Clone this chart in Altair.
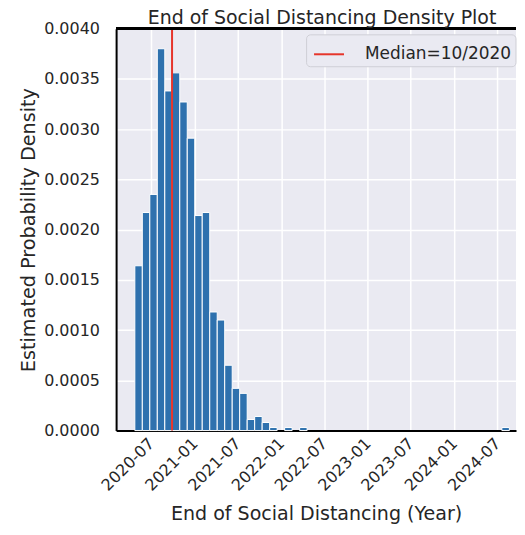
import altair as alt
import pandas as pd

# ---- data ----
bin_first_start = "2020-04-23"   # left edge of first histogram bin
bin_width_days = 31.6            # width of each histogram bin
densities = [
    0.00164, 0.00217, 0.00235, 0.00380, 0.00338, 0.00356, 0.00327, 0.00291,
    0.00214, 0.00217, 0.00118, 0.00110, 0.00065, 0.00042, 0.00037, 0.00011,
    0.00014, 0.00008, 0.00003, 0.0, 0.00003, 0.0, 0.00003,
    0.0, 0.0, 0.0, 0.0, 0.0, 0.0, 0.0, 0.0, 0.0, 0.0, 0.0, 0.0, 0.0,
    0.0, 0.0, 0.0, 0.0, 0.0, 0.0, 0.0, 0.0, 0.0, 0.0, 0.0, 0.0, 0.0,
    0.00003,
]
median_date = "2020-09-27"
median_label = "Median=10/2020"
x_tick_dates = ["2020-07-01", "2021-01-01", "2021-07-01", "2022-01-01",
                "2022-07-01", "2023-01-01", "2023-07-01", "2024-01-01",
                "2024-07-01"]
y_ticks = [0.0, 0.0005, 0.001, 0.0015, 0.002, 0.0025, 0.003, 0.0035, 0.004]
y_max = 0.004
x_domain = ["2020-02-04", "2024-09-17"]

# ---- build tables ----
start0 = pd.Timestamp(bin_first_start)
rows = []
for i, d in enumerate(densities):
    s = start0 + pd.Timedelta(days=bin_width_days * i)
    e = start0 + pd.Timedelta(days=bin_width_days * (i + 1))
    if d > 0:
        rows.append({"start": s, "end": e, "density": d})
df = pd.DataFrame(rows)
med_df = pd.DataFrame({"date": [pd.Timestamp(median_date)], "label": [median_label]})

TXT = "#262626"
FONT = "DejaVu Sans"

xscale = alt.Scale(domain=[pd.Timestamp(x_domain[0]).isoformat(), pd.Timestamp(x_domain[1]).isoformat()])
yscale = alt.Scale(domain=[0, y_max])

bars = alt.Chart(df).mark_bar(color="#2e71ae", stroke="white", strokeWidth=1).encode(
    x=alt.X("start:T", scale=xscale,
            axis=alt.Axis(values=[pd.Timestamp(t).isoformat() for t in x_tick_dates],
                          format="%Y-%m", labelAngle=-45, labelAlign="right",
                          labelBaseline="middle", labelPadding=10, labelOverlap=False,
                          title="End of Social Distancing (Year)", titlePadding=11,
                          grid=True, gridColor="white", gridWidth=1.5,
                          ticks=False, domainColor="black", domainWidth=2,
                          labelFontSize=16, titleFontSize=19.1,
                          labelColor=TXT, titleColor=TXT,
                          labelFont=FONT, titleFont=FONT, titleFontWeight="normal")),
    x2="end:T",
    y=alt.Y("density:Q", scale=yscale,
            axis=alt.Axis(values=y_ticks, format=".4f",
                          title="Estimated Probability Density", titlePadding=5,
                          labelPadding=16.7, grid=True, gridColor="white", gridWidth=1.5,
                          ticks=False, domainColor="black", domainWidth=2,
                          labelFontSize=16, titleFontSize=19.3,
                          labelColor=TXT, titleColor=TXT,
                          labelFont=FONT, titleFont=FONT, titleFontWeight="normal")),
    y2=alt.datum(0),
)

# top frame line at the top of the y domain
top_frame = alt.Chart(df).mark_rule(color="black", strokeWidth=2).encode(
    y=alt.datum(y_max, scale=yscale)
)

median = alt.Chart(med_df).mark_rule(strokeWidth=2).encode(
    x=alt.X("date:T", scale=xscale),
    color=alt.Color("label:N", scale=alt.Scale(range=["#e6352b"]),
                    legend=alt.Legend(title=None, orient="none", legendX=190.5, legendY=5.7,
                                      symbolType="stroke", symbolSize=900,
                                      symbolStrokeWidth=2, symbolOffset=3,
                                      labelFontSize=17,
                                      labelFont=FONT, labelColor=TXT,
                                      fillColor="#eaeaf2", strokeColor="#cfcfd6",
                                      cornerRadius=4, padding=4, labelOffset=20)),
)

chart = alt.layer(bars, median, top_frame).properties(
    width=401, height=403,
    title=alt.TitleParams("End of Social Distancing Density Plot", fontSize=19,
                          font=FONT, color=TXT, fontWeight="normal", offset=-7.8, dx=6),
    padding={"left": 11.4, "top": 0, "right": 0, "bottom": 0},
).configure_view(fill="#eaeaf2", stroke=None)

chart.save("out.html", embed_options={"renderer": "svg", "actions": False})
